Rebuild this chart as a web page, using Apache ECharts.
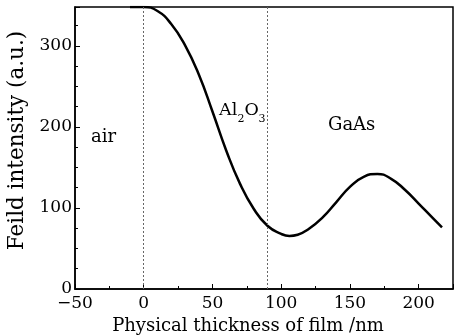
<!DOCTYPE html>
<html>
<head>
<meta charset="utf-8">
<script src="https://cdn.jsdelivr.net/npm/echarts@6/dist/echarts.min.js"></script>
<style>
  html, body { margin: 0; padding: 0; background: #fff; }
  #chart { width: 463px; height: 335px; }
</style>
</head>
<body>
<div id="chart"></div>
<script>
// thickness (nm) and field intensity
const thickness = [-10, 0, 10, 20, 30, 40, 50, 60, 70, 80, 90, 100, 106, 112, 120, 130, 140, 150, 160, 170, 180, 190, 200, 210, 217];
const intensity = [348, 348, 343, 327, 301, 265, 219, 171, 130, 99, 78, 68, 65.5, 67, 74, 88, 107, 126, 138.5, 142, 136, 122.5, 105.5, 88, 76];
const boundaries = [0, 90];

const font = "DejaVu Serif";
const chart = echarts.init(document.getElementById("chart"), null, { renderer: "canvas" });

function label(text, left, top, size) {
  return { type: "text", left: left, top: top, style: { text: text, font: size + "px " + font, fill: "#000" } };
}

chart.setOption({
  animation: false,
  grid: {
    left: 75, right: 10, top: 7, bottom: 46,
    outerBoundsMode: "none",
    containLabel: false,
    show: true, borderColor: "#000", borderWidth: 1.5,
  },
  xAxis: {
    type: "value",
    min: -50, max: 225, interval: 50,
    name: "Physical thickness of film /nm",
    nameLocation: "middle",
    nameGap: 21,
    nameTextStyle: { fontFamily: font, fontSize: 18, color: "#000", padding: [0, 32, 0, 0] },
    axisLine: { onZero: false, lineStyle: { color: "#000", width: 1.5 } },
    axisTick: { inside: true, length: 5, lineStyle: { color: "#000" } },
    minorTick: { show: true, splitNumber: 2, length: 3, lineStyle: { color: "#000" } },
    splitLine: { show: false },
    axisLabel: { margin: 6, showMaxLabel: false, fontFamily: font, fontSize: 17, color: "#000",
      formatter: v => (v < 0 ? "\u2212" + Math.abs(v) : String(v)) },
  },
  yAxis: {
    type: "value",
    min: 0, max: 348, interval: 100,
    name: "Feild intensity (a.u.)",
    nameLocation: "middle",
    nameGap: 33,
    nameTextStyle: { fontFamily: font, fontSize: 21.5, color: "#000", padding: [0, 0, 0, 15] },
    axisLine: { show: true, onZero: false, lineStyle: { color: "#000", width: 1.5 } },
    axisTick: { inside: true, length: 5, lineStyle: { color: "#000" } },
    minorTick: { show: true, splitNumber: 4, length: 3, lineStyle: { color: "#000" } },
    splitLine: { show: false },
    axisLabel: { margin: 3, showMaxLabel: false, fontFamily: font, fontSize: 17, color: "#000" },
  },
  series: [{
    type: "line",
    data: thickness.map((x, i) => [x, intensity[i]]),
    smooth: 0.5,
    showSymbol: false,
    clip: true,
    lineStyle: { color: "#000", width: 2.5 },
    markLine: {
      silent: true,
      symbol: "none",
      label: { show: false },
      lineStyle: { color: "#666", type: [2, 2], width: 1 },
      data: boundaries.map(x => ({ xAxis: x })),
    },
  }],
  graphic: [
    label("air", 91, 128, 18),
    label("Al", 219, 101, 17.5),
    label("2", 237.5, 114, 11),
    label("O", 244.5, 101, 17.5),
    label("3", 258.5, 114, 11),
    label("GaAs", 328, 116, 18),
  ],
});
</script>
</body>
</html>
